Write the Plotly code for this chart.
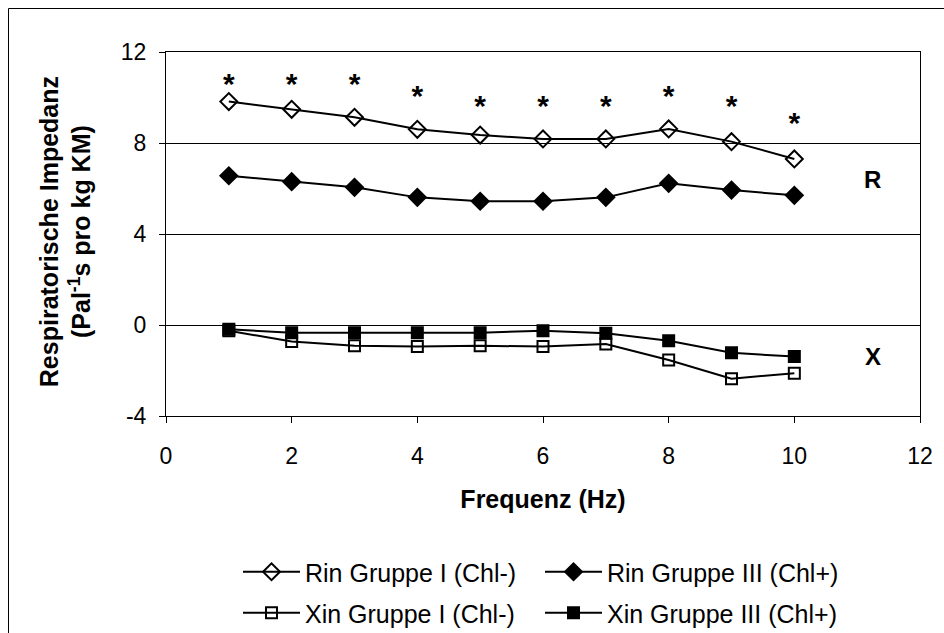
import plotly.graph_objects as go

# ---- data ----
freq = [1, 2, 3, 4, 5, 6, 7, 8, 9, 10]
rin_gruppe_I = [9.82, 9.48, 9.13, 8.60, 8.35, 8.18, 8.18, 8.62, 8.06, 7.30]
rin_gruppe_III = [6.56, 6.30, 6.05, 5.61, 5.44, 5.44, 5.61, 6.23, 5.93, 5.70]
xin_gruppe_I = [-0.25, -0.73, -0.91, -0.95, -0.91, -0.95, -0.84, -1.54, -2.36, -2.12]
xin_gruppe_III = [-0.19, -0.34, -0.34, -0.34, -0.34, -0.25, -0.36, -0.69, -1.22, -1.39]
star_y = [10.50, 10.50, 10.50, 9.95, 9.52, 9.52, 9.52, 9.95, 9.52, 8.78]

series_names = ["Rin Gruppe I (Chl-)", "Rin Gruppe III (Chl+)",
                "Xin Gruppe I (Chl-)", "Xin Gruppe III (Chl+)"]
x_ticks = [0, 2, 4, 6, 8, 10, 12]
y_ticks = [-4, 0, 4, 8, 12]
y_tick_text = ["-4", "0", "4", "8", "12"]
side_labels = [("R", 11.25, 6.4), ("X", 11.25, -1.4)]

FONT = "Liberation Sans, Arial, Helvetica, sans-serif"
W, H = 944, 633
ML, MR, MT, MB = 166, 24, 52, 217
PW, PH = W - ML - MR, H - MT - MB


def px_x(p):
    return (p - ML) / PW


def px_y(p):
    return (H - MB - p) / PH


fig = go.Figure()

styles = [
    dict(symbol="diamond-open", size=13, legend="legend"),
    dict(symbol="diamond", size=13, legend="legend"),
    dict(symbol="square-open", size=11, legend="legend2"),
    dict(symbol="square", size=11, legend="legend2"),
]
values = [rin_gruppe_I, rin_gruppe_III, xin_gruppe_I, xin_gruppe_III]

for name, vals, st in zip(series_names, values, styles):
    fig.add_trace(go.Scatter(
        x=freq, y=vals, name=name, mode="lines+markers",
        line=dict(color="black", width=2),
        marker=dict(symbol=st["symbol"], size=st["size"], color="black",
                    line=dict(color="black", width=2)),
        legend=st["legend"],
    ))

fig.add_trace(go.Scatter(
    x=freq, y=star_y, mode="text", text=["*"] * len(freq),
    textposition="middle center",
    textfont=dict(family=FONT, size=30, color="black", weight="bold"),
    showlegend=False, hoverinfo="skip",
))

for lab, lx, ly in side_labels:
    fig.add_annotation(x=lx, y=ly, text=f"<b>{lab}</b>", showarrow=False,
                       font=dict(family=FONT, size=24, color="black"),
                       xanchor="center", yanchor="middle")

# y-axis title
fig.add_annotation(
    xref="paper", yref="paper", x=px_x(65), y=0.505,
    text="<b>Respiratorische Impedanz<br>(Pal<sup>-1</sup>s pro kg KM)</b>",
    textangle=-90, showarrow=False, xanchor="center", yanchor="middle",
    font=dict(family=FONT, size=25, color="black"),
)

# outer chart frame (left and top edges visible)
fig.add_shape(type="path", xref="paper", yref="paper",
              path=f"M {px_x(8.5)},{px_y(700)} L {px_x(8.5)},{px_y(8.5)} L {px_x(1000)},{px_y(8.5)}",
              line=dict(color="black", width=1), layer="above")

fig.update_layout(
    width=W, height=H,
    margin=dict(l=ML, r=MR, t=MT, b=MB, autoexpand=False),
    paper_bgcolor="white", plot_bgcolor="white",
    font=dict(family=FONT, color="black"),
    xaxis=dict(
        range=[0, 12], tickvals=x_ticks, ticks="outside", ticklen=6,
        tickcolor="black", showline=True, linecolor="black", linewidth=1,
        mirror=True, showgrid=False, zeroline=False, ticklabelstandoff=13,
        automargin=False,
        tickfont=dict(family=FONT, size=23, color="black"),
        title=dict(text="<b>Frequenz (Hz)</b>", standoff=22,
                   font=dict(family=FONT, size=25, color="black")),
    ),
    yaxis=dict(
        range=[-4, 12], tickvals=y_ticks, ticktext=y_tick_text,
        ticks="outside", ticklen=6, ticklabelstandoff=8, automargin=False,
        tickcolor="black", showline=True, linecolor="black", linewidth=1,
        mirror=True, showgrid=True, gridcolor="black", gridwidth=1,
        zeroline=False,
        tickfont=dict(family=FONT, size=23, color="black"),
    ),
    legend=dict(orientation="h", x=px_x(238), y=px_y(572), xanchor="left",
                yanchor="middle", font=dict(family=FONT, size=25, color="black"),
                itemwidth=57, entrywidth=230, bgcolor="rgba(0,0,0,0)",
                tracegroupgap=0),
    legend2=dict(orientation="h", x=px_x(238), y=px_y(613), xanchor="left",
                 yanchor="middle", font=dict(family=FONT, size=25, color="black"),
                 itemwidth=57, entrywidth=230, bgcolor="rgba(0,0,0,0)",
                 tracegroupgap=0),
    showlegend=True,
)

fig.write_html("out.html", config={"displayModeBar": False},
               post_script="document.body.style.margin='0';document.body.style.overflow='hidden';")
